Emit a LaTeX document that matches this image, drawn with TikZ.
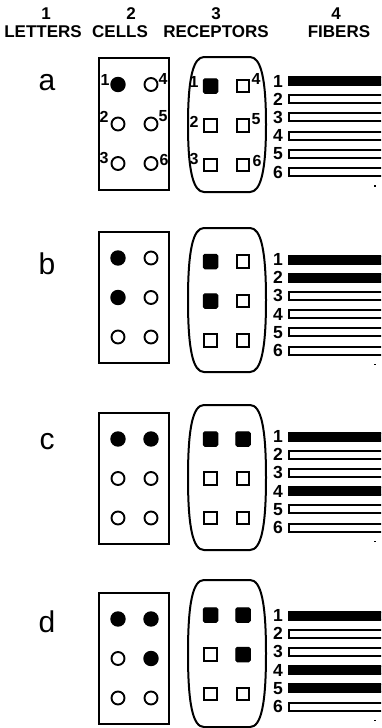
\documentclass[tikz,border=0pt]{standalone}
\usepackage{fontspec}
\setmainfont{Liberation Sans}
\tikzset{
  outl/.style={line width=2pt},
  dotopen/.style={circle, draw, line width=1.9pt, fill=white, minimum size=13pt, inner sep=0pt},
  dotfull/.style={circle, draw, line width=1.9pt, fill=black, minimum size=13.5pt, inner sep=0pt},
  sqopen/.style={rectangle, draw, line width=2pt, fill=white, minimum size=12.5pt, inner sep=0pt},
  sqfull/.style={rectangle, draw, line width=1pt, rounded corners=1.5pt, fill=black, minimum size=14.5pt, inner sep=0pt},
  fibopen/.style={rectangle, draw, line width=2pt, fill=white, anchor=west, minimum width=110pt, minimum height=8pt, inner sep=0pt},
  fibfull/.style={rectangle, draw, line width=2pt, fill=black, anchor=west, minimum width=110pt, minimum height=8pt, inner sep=0pt},
  hdr/.style={font=\fontsize{17}{17}\selectfont\bfseries, inner sep=0pt},
  num/.style={font=\fontsize{17.5}{17.5}\selectfont\bfseries, inner sep=0pt},
  lab/.style={font=\fontsize{16}{16}\selectfont\bfseries, inner sep=0pt},
  lettertxt/.style={font=\fontsize{30}{30}\selectfont, inner sep=0pt},
  speck/.style={rectangle, fill=black, minimum size=1.6pt, inner sep=0pt}
}
% #1 id, #2 letter, #3 letter y, #4 box top, #5 box bottom, #6 rec top, #7 rec bottom, #8 fiber1 y, #9 pattern
\newcommand\bpanel[9]{%
  \node[lettertxt] (#1-letter) at (47,#3) {#2};
  \draw[outl] (99,#4) rectangle (169,#5);
  \draw[outl] (204,#6) -- (250,#6)
     .. controls (261,#6) and (266,#6+22) .. (266,{(#6+#7)/2})
     .. controls (266,#7-22) and (261,#7) .. (250,#7)
     -- (204,#7)
     .. controls (193,#7) and (188,#7-22) .. (188,{(#6+#7)/2})
     .. controls (188,#6+22) and (193,#6) .. (204,#6) -- cycle;
  \foreach \f [count=\i] in {#9} {
    \pgfmathtruncatemacro\cc{int((\i-1)/3)}
    \pgfmathtruncatemacro\rr{mod(\i-1,3)}
    \pgfmathsetmacro\dx{118+33*\cc}
    \pgfmathsetmacro\dy{(#4+#5)/2+39.5*(\rr-1)}
    \pgfmathsetmacro\sx{210.5+32.5*\cc}
    \pgfmathsetmacro\sy{(#6+#7)/2+1+39.5*(\rr-1)}
    \pgfmathsetmacro\fy{#8+18.2*(\i-1)}
    \ifnum\f=1 \def\st{full}\else\def\st{open}\fi
    \node[dot\st] (#1-cell\i) at (\dx,\dy) {};
    \node[sq\st] (#1-rec\i) at (\sx,\sy) {};
    \node[num] (#1-fnum\i) at (278,\fy) {\i};
    \node[fib\st] (#1-fib\i) at (288,\fy) {};
  }
  \node[speck] (#1-speck) at (375,#8+105) {};
}
\begin{document}
\begin{tikzpicture}[x=1pt,y=-1pt]
\clip (0,0) rectangle (381,728);
\fill[white] (0,0) rectangle (381,728);
% header
\node[hdr] (h1) at (46,14) {1};
\node[hdr] (h2) at (131,14) {2};
\node[hdr] (h3) at (216,14) {3};
\node[hdr] (h4) at (336,14) {4};
\node[hdr] (w1) at (43,31.5) {LETTERS};
\node[hdr] (w2) at (120,31.5) {CELLS};
\node[hdr] (w3) at (216,31.5) {RECEPTORS};
\node[hdr] (w4) at (339,31.5) {FIBERS};
% panels
\bpanel{a}{a}{83}{58}{190}{57}{192}{81}{1,0,0,0,0,0}
\bpanel{b}{b}{264}{232}{363}{228}{372}{259.5}{1,1,0,0,0,0}
\bpanel{c}{c}{442}{413}{544}{405}{550}{436.5}{1,0,0,1,0,0}
\bpanel{d}{d}{622}{593}{724}{580}{727}{615.5}{1,0,0,1,1,0}
% numbering in panel a
\node[lab] (ac1) at (105,80) {1};
\node[lab] (ac2) at (104,117) {2};
\node[lab] (ac3) at (104,158) {3};
\node[lab] (ac4) at (163,79) {4};
\node[lab] (ac5) at (163,116) {5};
\node[lab] (ac6) at (164,160) {6};
\node[lab] (ar1) at (194,82) {1};
\node[lab] (ar2) at (194,122) {2};
\node[lab] (ar3) at (194,159) {3};
\node[lab] (ar4) at (256,79) {4};
\node[lab] (ar5) at (256,119) {5};
\node[lab] (ar6) at (257,161) {6};
\end{tikzpicture}
\end{document}
